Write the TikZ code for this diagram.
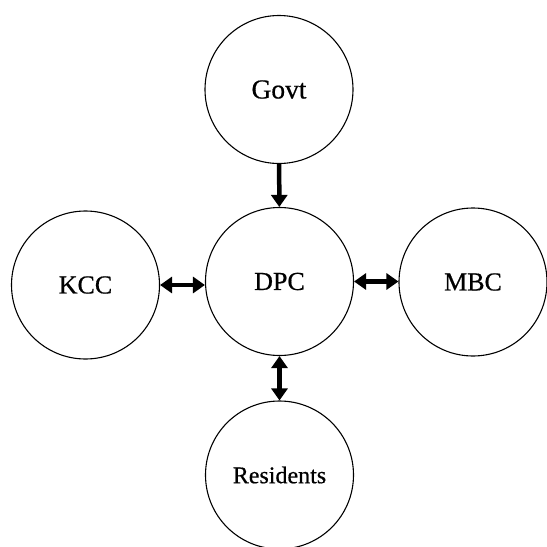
\documentclass[tikz,border=0pt]{standalone}
\usepackage{fontspec}
\setmainfont{Liberation Serif}
\newfontfamily\labelfont{Liberation Serif}[FakeBold=0.6]
\usetikzlibrary{arrows.meta}

\tikzset{
  party/.style={draw,circle,line width=1.1pt,minimum size=148pt,inner sep=0pt,font=\labelfont\fontsize{26}{30}\selectfont},
  link/.style={line width=4.5pt}
}

\begin{document}
\begin{tikzpicture}[x=1pt,y=-1pt,>={Triangle[length=12pt,width=16pt]}]
 \useasboundingbox (0,0) rectangle (547,547);

 \node[party] (govt) at (279,89.5) {\fontsize{27.5}{30}\selectfont Govt};
 \node[party] (dpc) at (279.5,281.5) {DPC};
 \node[party] (kcc) at (85.5,285) {KCC};
 \node[party] (mbc) at (473,282) {MBC};
 \node[party] (res) at (279.5,475) {\fontsize{24}{30}\selectfont Residents};

 \draw[link,->] (govt) -- (dpc);
 \draw[link,<->] (kcc.east) -- (kcc.east -| dpc.west);
 \draw[link,<->] (dpc.east) -- (dpc.east -| mbc.west);
 \draw[link,<->] (dpc.south) -- (dpc.south |- res.north);
\end{tikzpicture}
\end{document}
